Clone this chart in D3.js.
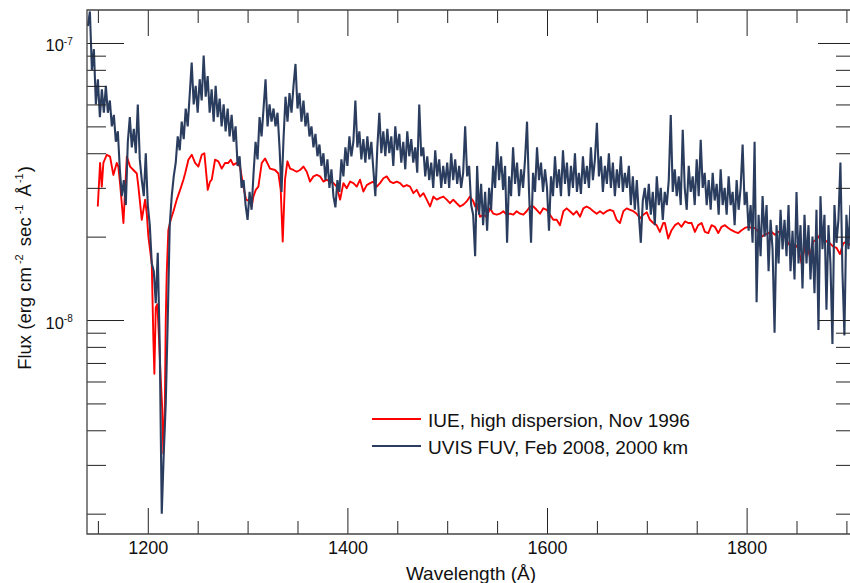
<!DOCTYPE html>
<html><head><meta charset="utf-8">
<script src="https://cdn.jsdelivr.net/npm/d3@7"></script>
<style>
body{margin:0;background:#fff}
svg{display:block}
text{font-family:"Liberation Sans",Arial,Helvetica,sans-serif;fill:#111}
</style>
</head><body>
<svg id="chart" width="850" height="583"></svg>
<script>
// ---------------- data (flux in units of 1e-8 erg cm^-2 s^-1 A^-1) ----------------
const fluxUnit = 1e-8;
const uvisStart = 1140, uvisStep = 2;   // wavelength grid of the UVIS spectrum (Å)
const uvisFlux = [
 11.5,13.0,8.0,9.5,6.0,7.4,5.4,6.8,5.6,7.0,      // 1140
 5.6,6.2,5.0,5.5,4.4,4.8,3.5,2.8,3.2,2.6,        // 1160
 4.4,5.4,4.2,4.9,4.0,6.0,3.8,3.2,2.8,4.0,        // 1180
 2.6,2.2,1.6,1.5,1.15,1.75,0.8,0.2,0.33,0.5,     // 1200
 1.0,2.2,2.8,3.3,3.7,4.6,4.1,5.2,4.5,5.8,        // 1220
 5.0,6.5,8.5,6.0,7.0,5.6,7.4,6.2,9.0,6.4,        // 1240
 7.6,5.6,6.8,5.2,7.0,5.4,6.3,5.0,6.0,4.8,        // 1260
 5.8,4.6,5.5,4.4,5.0,3.6,3.9,3.0,3.2,2.6,        // 1280
 2.3,2.9,2.5,3.4,4.4,3.8,5.4,4.6,5.8,7.4,        // 1300
 5.0,6.0,5.2,5.8,5.0,5.6,4.2,2.9,4.5,6.4,        // 1320
 5.2,6.6,5.6,7.0,8.4,5.8,6.6,5.2,6.2,5.0,        // 1340
 5.6,4.6,5.0,4.2,4.7,3.9,4.3,3.6,4.0,3.2,        // 1360
 3.8,3.0,3.5,2.8,2.55,3.2,2.9,3.8,3.3,4.2,       // 1380
 3.6,4.6,3.9,4.4,6.2,4.2,4.8,3.8,4.5,3.7,        // 1400
 4.6,3.8,4.4,3.5,2.8,4.2,5.6,4.0,4.8,3.9,        // 1420
 4.9,4.0,4.6,3.6,5.0,4.1,4.7,3.7,4.4,3.5,        // 1440
 4.8,3.9,4.5,3.7,4.2,3.4,6.0,3.9,4.2,3.3,        // 1460
 3.9,3.2,3.7,3.0,4.1,3.3,3.8,3.0,3.6,3.1,        // 1480
 3.7,3.0,4.0,3.2,3.8,3.1,3.6,3.0,3.4,5.0,        // 1500
 3.3,3.6,2.6,2.4,1.7,3.6,2.4,3.1,2.2,2.9,        // 1520
 2.1,3.0,2.5,3.6,3.0,4.4,3.2,3.9,2.95,3.6,       // 1540
 1.9,3.3,2.8,4.2,3.1,3.7,2.8,3.5,3.0,3.8,        // 1560
 5.2,2.9,1.9,3.4,2.9,4.2,3.2,3.7,2.9,3.5,        // 1580
 3.0,2.1,3.3,2.8,3.9,3.0,3.5,2.8,4.1,3.1,        // 1600
 3.7,2.8,3.6,3.0,4.0,2.9,3.4,2.85,3.9,3.1,       // 1620
 3.6,3.0,4.2,3.2,3.8,5.15,3.3,3.9,2.9,3.6,       // 1640
 3.1,4.0,3.0,3.7,2.8,3.5,3.0,3.9,2.9,3.4,        // 1660
 3.0,3.6,2.6,3.3,2.5,3.2,2.4,1.9,2.7,3.0,        // 1680
 2.5,3.1,2.4,2.9,2.2,3.3,2.6,3.0,2.3,2.9,        // 1700
 2.6,3.2,5.5,2.9,3.5,2.8,3.3,2.6,4.86,3.0,       // 1720
 2.5,3.6,2.9,3.3,2.6,3.8,2.8,4.47,3.0,3.4,       // 1740
 2.6,3.2,2.5,3.4,2.7,3.1,2.4,3.5,2.6,3.0,        // 1760
 2.4,3.3,2.6,2.9,2.2,3.2,2.5,3.0,4.3,2.6,        // 1780
 2.9,2.1,2.6,1.9,4.4,1.16,2.4,1.7,2.8,2.0,       // 1800
 2.6,1.5,2.3,1.8,0.9,2.2,1.6,2.5,1.8,2.3,        // 1820
 1.7,2.6,1.5,2.1,1.4,2.9,1.6,2.2,1.3,2.4,        // 1840
 1.6,2.2,1.4,2.0,1.25,2.5,0.92,2.8,1.8,2.4,      // 1860
 1.09,2.2,1.6,0.82,2.6,1.9,2.3,3.7,1.5,0.88,     // 1880
 2.4,1.8,2.6,2.0,2.4,2.1                         // 1900
];
const iueWave = [
 1149.9,1152.2,1153.9,1155.5,1158.9,1162.2,1165.5,1168.9,1170.5,1172.2,
 1175.6,1179.0,1182.3,1185.6,1189.0,1190.6,1194.0,1197.3,1199.0,1200.6,
 1204.0,1205.6,1206.6,1208.0,1209.6,1211.3,1213.0,1214.6,1215.6,1217.0,
 1218.0,1219.0,1220.6,1223.0,1225.7,1229.0,1232.4,1235.7,1237.4,1240.7,
 1244.1,1247.4,1250.7,1254.1,1256.7,1260.1,1262.4,1264.1,1267.4,1270.7,
 1274.1,1277.4,1280.7,1283.1,1285.7,1289.1,1292.4,1295.8,1298.5,1302.5,
 1304.2,1305.8,1308.2,1310.8,1314.2,1317.5,1322.5,1327.5,1330.9,1333.2,
 1335.2,1337.5,1339.9,1342.6,1345.9,1349.2,1352.6,1355.9,1359.3,1362.6,
 1366.0,1369.3,1372.6,1376.0,1379.3,1382.6,1386.0,1389.3,1392.7,1396.0,
 1399.3,1402.7,1406.0,1409.4,1412.7,1416.0,1419.4,1422.7,1426.1,1429.4,
 1432.7,1436.1,1439.4,1442.8,1446.1,1449.4,1452.8,1456.1,1459.5,1462.8,
 1466.1,1469.5,1472.8,1476.2,1479.5,1482.8,1486.2,1489.5,1492.9,1496.2,
 1499.5,1502.8,1506.1,1509.5,1512.8,1516.2,1519.5,1522.8,1526.2,1527.9,
 1529.5,1532.9,1536.2,1539.5,1542.9,1546.2,1549.6,1552.9,1556.2,1559.6,
 1562.9,1566.3,1569.6,1573.0,1576.3,1579.6,1583.0,1586.3,1589.6,1593.0,
 1596.3,1599.7,1603.0,1606.3,1609.7,1613.0,1616.4,1619.7,1623.0,1626.4,
 1629.7,1633.1,1636.4,1639.7,1643.1,1646.4,1649.8,1653.1,1656.4,1659.8,
 1663.1,1666.5,1669.8,1673.1,1676.5,1679.8,1683.2,1686.5,1689.8,1693.2,
 1696.5,1699.9,1703.1,1706.5,1709.8,1713.1,1716.5,1718.1,1721.5,1724.8,
 1728.2,1731.5,1734.8,1738.2,1741.5,1744.9,1748.2,1751.5,1754.9,1758.2,
 1761.6,1764.9,1768.2,1771.6,1774.9,1778.3,1781.6,1784.9,1788.3,1791.6,
 1795.0,1798.3,1801.6,1805.0,1808.3,1811.7,1815.0,1818.3,1821.7,1825.0,
 1828.4,1831.7,1835.0,1838.4,1841.7,1845.1,1848.4,1851.7,1855.1,1858.4,
 1861.8,1863.4,1866.8,1870.1,1873.5,1876.8,1880.1,1883.5,1886.8,1890.2,
 1893.5,1896.8,1900.2,1903.5,1908.0
];
const iueFlux = [
 2.57,3.69,3.03,3.69,3.95,3.89,3.34,3.69,3.58,3.12,
 2.24,3.89,3.58,3.48,3.38,3.03,2.30,2.72,2.42,2.00,
 1.60,0.85,0.64,1.11,1.14,0.85,0.61,0.47,0.33,0.46,
 1.00,1.48,2.11,2.30,2.47,2.72,2.95,3.21,3.38,3.79,
 3.95,3.69,3.58,3.95,4.00,2.95,3.16,3.21,3.79,3.74,
 3.52,3.69,3.69,3.79,3.63,3.69,3.58,3.03,2.72,2.68,
 2.57,2.79,2.95,3.03,3.69,3.83,3.52,3.48,3.38,2.95,
 1.92,3.21,3.74,3.52,3.48,3.43,3.48,3.58,3.43,3.16,
 3.30,3.34,3.30,3.16,3.21,3.16,3.12,3.03,2.72,3.12,
 2.99,3.16,3.12,3.03,3.21,2.91,3.07,3.12,3.16,3.03,
 3.12,3.25,3.30,3.16,3.12,3.16,3.12,3.03,3.07,3.03,
 2.87,2.95,2.79,2.87,2.72,2.57,2.79,2.72,2.76,2.79,
 2.72,2.64,2.72,2.64,2.57,2.61,2.68,2.79,2.68,2.57,
 2.64,2.36,2.40,2.36,2.53,2.42,2.40,2.42,2.47,2.40,
 2.42,2.40,2.47,2.42,2.40,2.47,2.57,2.57,2.50,2.42,
 2.53,2.50,2.40,2.30,2.30,2.20,2.47,2.53,2.47,2.40,
 2.47,2.36,2.53,2.57,2.53,2.47,2.42,2.47,2.42,2.47,
 2.50,2.47,2.30,2.24,2.47,2.53,2.50,2.47,2.42,2.33,
 2.40,2.45,2.30,2.24,2.20,2.08,2.24,2.24,1.97,2.11,
 2.20,2.24,2.17,2.27,2.24,2.24,2.08,2.20,2.24,2.08,
 2.06,2.20,2.17,2.06,2.17,2.20,2.15,2.11,2.08,2.06,
 2.11,2.15,2.17,2.15,2.15,2.08,2.00,2.03,2.06,2.08,
 2.03,2.08,2.08,2.03,1.89,1.84,1.87,1.82,1.60,1.84,
 1.79,1.69,1.92,1.95,2.03,1.97,1.92,1.89,1.84,1.82,
 1.73,1.89,1.92,1.87,1.90
];
const xMajorTicks = [1200, 1400, 1600, 1800];
const xMinorTicks = [1150, 1250, 1300, 1350, 1450, 1500, 1550, 1650, 1700, 1750, 1850, 1900];
const yMajorTicks = [1e-8, 1e-7];
const yMajorExponents = ["-8", "-7"];
const yMinorTicks = [2e-9,3e-9,4e-9,5e-9,6e-9,7e-9,8e-9,9e-9,2e-8,3e-8,4e-8,5e-8,6e-8,7e-8,8e-8,9e-8];
const seriesNames = ["IUE, high dispersion, Nov 1996", "UVIS FUV, Feb 2008, 2000 km"];
const seriesColors = ["#ff0000", "#2b3d5f"];
const xDomain = [1139.1, 1908.6];
const yDomain = [1.689e-9, 1.3155e-7];

// ---------------- layout ----------------
const L = 87, T = 10, R = 855, B = 534;
const svg = d3.select("#chart");
const x = d3.scaleLinear().domain(xDomain).range([L, R]);
const y = d3.scaleLog().domain(yDomain).range([B, T]);

svg.append("defs").append("clipPath").attr("id", "plotclip")
  .append("rect").attr("x", L).attr("y", T).attr("width", R - L).attr("height", B - T);

// data series
const uvis = uvisFlux.map((v, i) => ({ w: uvisStart + i * uvisStep, f: v * fluxUnit }));
const iue = iueWave.map((w, i) => ({ w: w, f: iueFlux[i] * fluxUnit }));

const g = svg.append("g").attr("clip-path", "url(#plotclip)");
g.append("path").datum(iue)
  .attr("fill", "none").attr("stroke", seriesColors[0]).attr("stroke-width", 1.9)
  .attr("stroke-linejoin", "round")
  .attr("d", d3.line().x(d => x(d.w)).y(d => y(d.f)));
g.append("path").datum(uvis)
  .attr("fill", "none").attr("stroke", seriesColors[1]).attr("stroke-width", 2.1)
  .attr("stroke-linejoin", "miter")
  .attr("d", d3.line().x(d => x(d.w)).y(d => y(d.f)));

// axes
function styleAxis(sel) {
  sel.select(".domain").remove();
  sel.selectAll(".tick line").attr("stroke", "#222").attr("stroke-width", 1);
}
svg.append("g").attr("transform", `translate(0,${B})`)
  .call(d3.axisBottom(x).tickValues(xMajorTicks).tickSize(-26).tickPadding(7).tickFormat(d3.format("d")))
  .call(styleAxis)
  .call(s => s.selectAll("text").attr("font-size", 18).attr("fill", "#111")
    .attr("font-family", '"Liberation Sans",Arial,sans-serif'));
svg.append("g").attr("transform", `translate(0,${B})`)
  .call(d3.axisBottom(x).tickValues(xMinorTicks).tickSize(-13).tickFormat(""))
  .call(styleAxis);
svg.append("g").attr("transform", `translate(0,${T})`)
  .call(d3.axisTop(x).tickValues(xMajorTicks).tickSize(-26).tickFormat(""))
  .call(styleAxis);
svg.append("g").attr("transform", `translate(0,${T})`)
  .call(d3.axisTop(x).tickValues(xMinorTicks).tickSize(-13).tickFormat(""))
  .call(styleAxis);
svg.append("g").attr("transform", `translate(${L},0)`)
  .call(d3.axisLeft(y).tickValues(yMajorTicks).tickSize(-37).tickFormat(""))
  .call(styleAxis);
svg.append("g").attr("transform", `translate(${L},0)`)
  .call(d3.axisLeft(y).tickValues(yMinorTicks).tickSize(-19).tickFormat(""))
  .call(styleAxis);
svg.append("g").attr("transform", `translate(${R},0)`)
  .call(d3.axisRight(y).tickValues(yMajorTicks).tickSize(-37).tickFormat(""))
  .call(styleAxis);
svg.append("g").attr("transform", `translate(${R},0)`)
  .call(d3.axisRight(y).tickValues(yMinorTicks).tickSize(-19).tickFormat(""))
  .call(styleAxis);

// frame
svg.append("path")
  .attr("d", `M${R},${T}H${L}V${B}H${R}`)
  .attr("fill", "none").attr("stroke", "#444").attr("stroke-width", 1.3);

// y tick labels: 10^exp
yMajorTicks.forEach((v, i) => {
  const t = svg.append("text").attr("x", 45.5).attr("y", y(v) + 8.5).attr("font-size", 16.5);
  t.append("tspan").text("10");
  t.append("tspan").attr("font-size", 10).attr("dy", -6.5).text(yMajorExponents[i]);
});

// axis titles
svg.append("text").attr("x", 471).attr("y", 580)
  .attr("text-anchor", "middle").attr("font-size", 19).text("Wavelength (Å)");

const yt = svg.append("text").attr("transform", "translate(30.5,268) rotate(-90)")
  .attr("text-anchor", "middle").attr("font-size", 18.5);
yt.append("tspan").text("Flux (erg cm");
yt.append("tspan").attr("font-size", 11).attr("dx", 3).attr("dy", -7.5).text("-2");
yt.append("tspan").attr("dx", 3).attr("dy", 7.5).text(" sec");
yt.append("tspan").attr("font-size", 11).attr("dx", 3).attr("dy", -7.5).text("-1");
yt.append("tspan").attr("dx", 3).attr("dy", 7.5).text(" Å");
yt.append("tspan").attr("font-size", 11).attr("dx", 1).attr("dy", -7.5).text("-1");
yt.append("tspan").attr("dx", 1).attr("dy", 7.5).text(")");

// legend
const legendY = [419, 446];
seriesNames.forEach((name, i) => {
  svg.append("line").attr("x1", 372).attr("x2", 421).attr("y1", legendY[i]).attr("y2", legendY[i])
    .attr("stroke", seriesColors[i]).attr("stroke-width", 2);
  svg.append("text").attr("x", 428).attr("y", legendY[i] + 7.5)
    .attr("font-size", 19).text(name);
});
</script>
</body></html>
